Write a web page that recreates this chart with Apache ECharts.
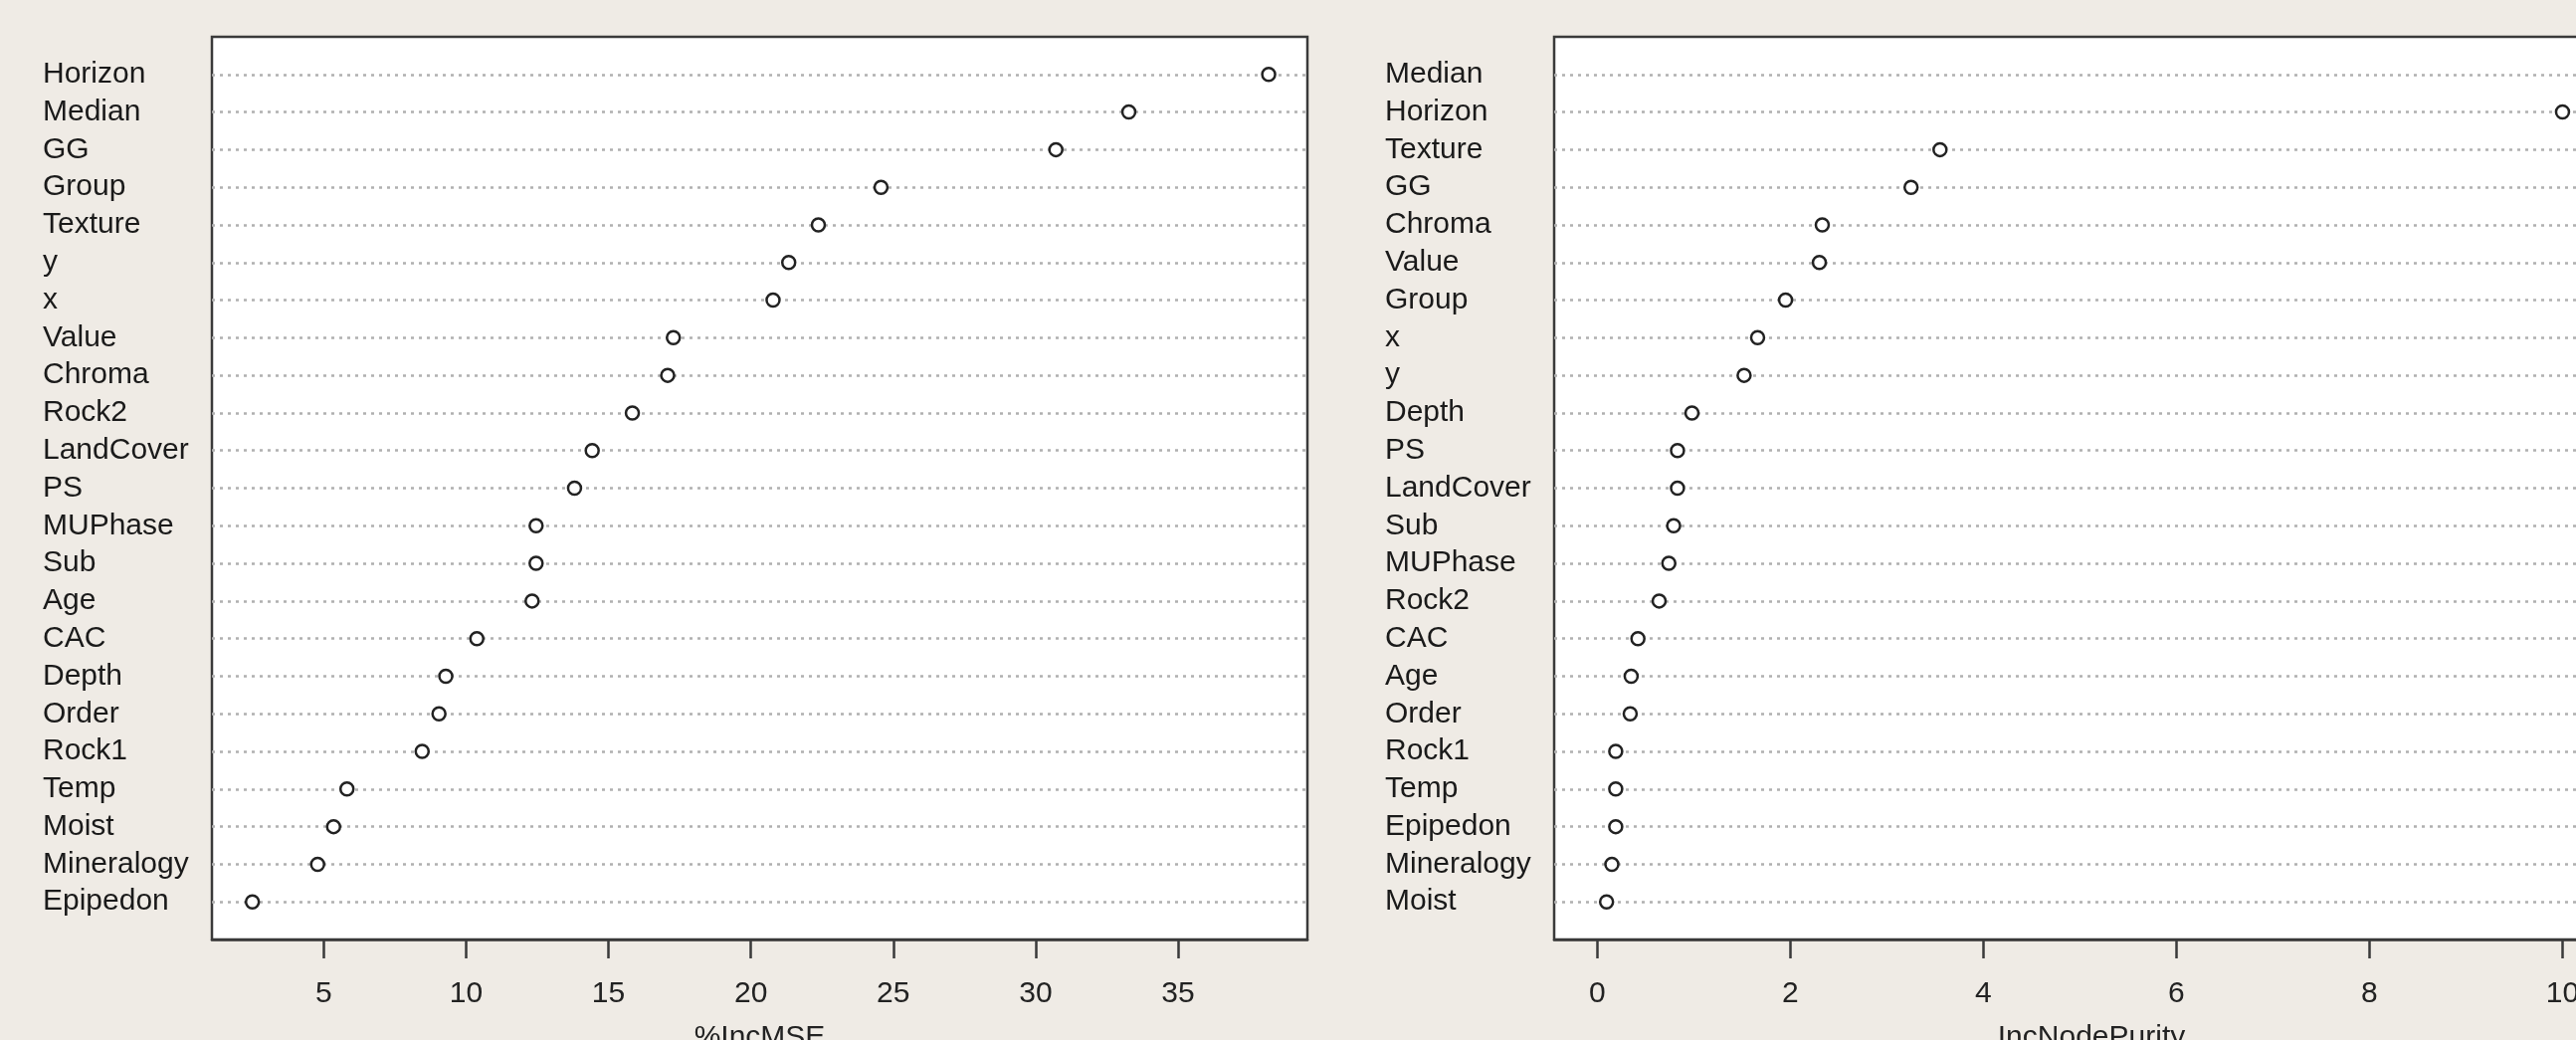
<!DOCTYPE html>
<html>
<head>
<meta charset="utf-8">
<script src="https://cdn.jsdelivr.net/npm/echarts@6/dist/echarts.min.js"></script>
<style>
  html, body { margin: 0; padding: 0; background: #efebe5; }
  #chart { width: 2589px; height: 1045px; }
</style>
</head>
<body>
<div id="chart"></div>
<script>
// Panel A: %IncMSE (top to bottom)
const namesA = ["Horizon","Median","GG","Group","Texture","y","x","Value","Chroma","Rock2","LandCover","PS","MUPhase","Sub","Age","CAC","Depth","Order","Rock1","Temp","Moist","Mineralogy","Epipedon"];
const valuesA = [38.18,33.27,30.71,24.57,22.37,21.33,20.78,17.28,17.08,15.84,14.43,13.81,12.46,12.46,12.32,10.38,9.29,9.05,8.46,5.82,5.35,4.79,2.50];
const ticksA = [5,10,15,20,25,30,35];

// Panel B: IncNodePurity (top to bottom)
const namesB = ["Median","Horizon","Texture","GG","Chroma","Value","Group","x","y","Depth","PS","LandCover","Sub","MUPhase","Rock2","CAC","Age","Order","Rock1","Temp","Epipedon","Mineralogy","Moist"];
const valuesB = [10.3,10.0,3.55,3.25,2.33,2.30,1.95,1.66,1.52,0.98,0.83,0.83,0.79,0.74,0.64,0.42,0.35,0.34,0.19,0.19,0.19,0.15,0.095];
const ticksB = [0,2,4,6,8,10];

const FONT = "'Liberation Sans', Arial, sans-serif";
const n = namesA.length;
const rows = namesA.map((_, i) => n - i);

function toData(vals) { return vals.map((v, i) => [v, n - i]); }

const chart = echarts.init(document.getElementById('chart'), null, { renderer: 'canvas' });

function xAxisCfg(gridIndex, min, max, ticks, name) {
  return {
    type: 'value', gridIndex, min, max, name,
    nameLocation: 'middle', nameGap: 84,
    nameTextStyle: { fontFamily: FONT, fontSize: 30, color: '#222' },
    axisLine: { show: true, lineStyle: { color: '#3a3a3a', width: 2.5 } },
    axisTick: { show: true, length: 19, lineStyle: { color: '#3a3a3a', width: 2.5 }, customValues: ticks },
    axisLabel: { show: true, margin: 40, fontFamily: FONT, fontSize: 30, color: '#222', customValues: ticks, formatter: v => String(v) },
    splitLine: { show: false }
  };
}
function yAxisCfg(gridIndex, names) {
  return {
    type: 'value', gridIndex, min: 0, max: n + 1, interval: 1,
    axisLine: { show: false }, axisTick: { show: false },
    splitLine: { show: false },
    axisLabel: {
      show: true, align: 'left', margin: 170, fontFamily: FONT, fontSize: 30, color: '#1a1a1a',
      formatter: v => (v >= 1 && v <= n) ? names[n - v] : ''
    }
  };
}
function seriesCfg(idx, vals) {
  return {
    type: 'scatter', xAxisIndex: idx, yAxisIndex: idx, z: 3,
    data: toData(vals),
    symbol: 'circle', symbolSize: 13,
    itemStyle: { color: '#ffffff', borderColor: '#222', borderWidth: 2.5, opacity: 1 },
    emphasis: { disabled: true },
    markLine: {
      silent: true, z: 1, symbol: ['none', 'none'],
      label: { show: false },
      lineStyle: { color: '#b0b0b0', type: [3, 5], width: 2.5 },
      emphasis: { disabled: true },
      data: rows.map(r => ({ yAxis: r }))
    }
  };
}

chart.setOption({
  backgroundColor: '#efebe5',
  animation: false,
  grid: [
    { left: 213, width: 1101, top: 37, height: 907, containLabel: false, outerBoundsMode: 'none', show: true, backgroundColor: '#ffffff', borderColor: '#3a3a3a', borderWidth: 2.5 },
    { left: 1562, width: 1080, top: 37, height: 907, containLabel: false, outerBoundsMode: 'none', show: true, backgroundColor: '#ffffff', borderColor: '#3a3a3a', borderWidth: 2.5 }
  ],
  xAxis: [
    xAxisCfg(0, 1.079, 39.54, ticksA, '%IncMSE'),
    xAxisCfg(1, -0.448, 10.686, ticksB, 'IncNodePurity')
  ],
  yAxis: [ yAxisCfg(0, namesA), yAxisCfg(1, namesB) ],
  series: [ seriesCfg(0, valuesA), seriesCfg(1, valuesB) ]
});
</script>
</body>
</html>
